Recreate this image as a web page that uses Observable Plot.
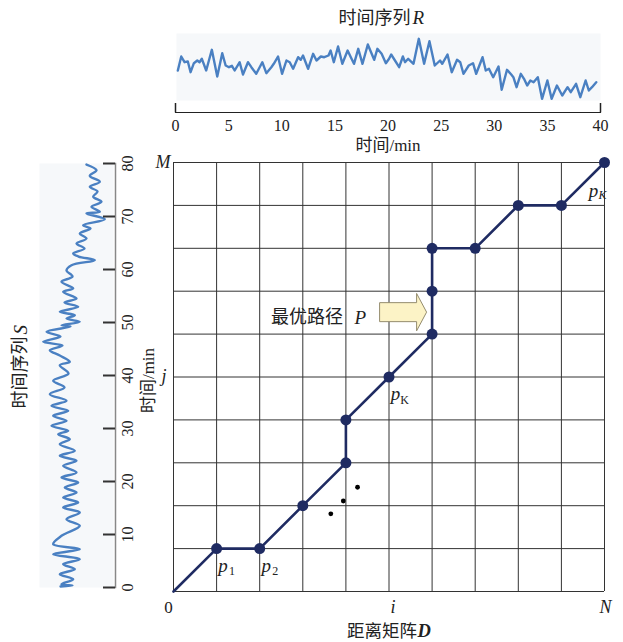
<!DOCTYPE html>
<html><head><meta charset="utf-8">
<script src="https://cdn.jsdelivr.net/npm/d3@7"></script>
<script src="https://cdn.jsdelivr.net/npm/@observablehq/plot@0.6"></script>
<style>
html,body{margin:0;padding:0;background:#fff;}
#wrap{position:relative;width:623px;height:642px;overflow:hidden;background:#fff;}
#wrap svg{position:absolute;left:0;top:0;}
</style></head><body><div id="wrap"></div>
<script>
const SERIF = "'Liberation Serif','Noto Sans CJK SC',serif";
const CJK = "'Noto Sans CJK SC','Liberation Serif',sans-serif";
const BLUE = "#4a80c2";
const NAVY = "#1f2b62";
const PANEL = "#f6f8fa";

// ---- time series R (top) : minutes, value
const rTime = [0.22,0.54,0.85,1.16,1.42,1.73,2.05,2.26,2.48,2.89,3.42,3.93,4.4,4.72,5.03,5.31,5.57,6.04,6.35,6.82,7.14,7.6,8.17,8.55,9.02,9.25,9.65,10.03,10.44,10.75,11.07,11.54,11.79,12.0,12.48,12.95,13.27,13.68,14.0,14.4,14.6,14.9,15.3,15.7,16.2,16.5,16.8,17.2,17.6,18.1,18.7,19.0,19.4,19.8,20.1,20.3,21.05,21.4,21.6,21.9,22.4,22.9,23.4,23.9,24.4,24.9,25.1,25.6,26.0,26.5,26.8,27.1,27.6,28.0,28.3,28.9,29.2,29.5,29.9,30.4,30.7,31.2,31.6,31.8,32.1,32.5,32.8,33.1,33.4,33.7,34.1,34.5,35.0,35.4,35.9,36.4,36.9,37.2,37.7,38.1,38.6,38.9,39.2,39.6];
const rValue = [40,54,48.3,49,38.3,47.3,50,48.3,51.7,40,60.7,34,57.3,45,43.3,44.7,40,48.3,36,48.3,43.3,36.7,48.3,37.3,43.3,46.7,54,36.7,50,48.3,41.7,53.3,50.7,55,41.7,56.7,50,54,53.3,55,60,48.3,64,46.7,60,53.3,46.7,61.7,46.7,66,50.7,61.7,56.7,47.3,51.7,56,43.3,54,48.3,51.7,46.7,71.7,46.7,69.3,45,50,46.7,56,38.3,50.7,48.3,36.7,45,47.3,36.7,53.3,40,41.7,33.3,44,20.7,40.7,36,33.3,23.3,36.7,31.7,25,30,28.3,33.3,11.7,30,11.7,25,15,23.3,18.3,26.7,13.3,30,20,23.3,28.3];
const rTicks = [0,5,10,15,20,25,30,35,40];
const rEndTicks = [0,40];

// ---- time series S (left) : minutes, value
const sTime = [0.19,0.38,0.62,1.57,2.51,3.45,4.40,5.34,6.28,7.23,8.17,9.75,11.64,12.89,14.15,15.09,16.04,16.98,17.92,18.87,19.81,20.75,21.70,22.96,23.91,24.85,25.79,27.04,27.98,28.92,29.57,30.51,31.45,32.40,33.34,34.28,35.23,36.47,37.74,39.0,40.38,41.94,42.58,43.77,44.77,45.66,46.36,47.36,48.25,49.25,49.49,50.13,50.75,51.38,52.02,52.96,53.77,54.53,55.79,56.42,57.68,58.68,59.81,60.81,61.75,62.45,63.02,63.96,64.91,65.85,66.79,67.74,68.36,69.49,70.57,70.89,71.83,72.77,73.72,74.72,75.60,76.55,77.68,78.74,79.81];
const sValue = [21,33,22,33.7,20.3,35.3,23.7,40.3,13.7,40.3,13.7,22,40.3,27,40.3,23.7,38.7,23.7,37,25.3,38.7,22,37,23.7,37,20.3,35.3,20.3,30.3,18.7,28.7,12,27,13.7,28.7,12,27,10.3,25,13.7,29,20.3,30.3,20.3,10.3,23,3.7,21,7,31,22,40.3,27,35.3,20.3,38.7,25,37,23.7,33.7,22,33,27,32,55.3,39,33.7,45,37,47,40.3,51,43.7,65.3,47,60.3,52,62,53.7,58,50.3,60.3,50.3,57,47];
const sTicks = [0,10,20,30,40,50,60,70,80];

// ---- distance matrix grid and warping path
const gridI = [0,1,2,3,4,5,6,7,8,9,10];
const gridJ = [0,1,2,3,4,5,6,7,8,9,10];
const pathI = [0,1,2,3,4,4,5,6,6,6,7,8,9,10];
const pathJ = [0,1,1,2,3,4,5,6,7,8,8,9,9,10];
const extraI = [3.65,3.94,4.27];
const extraJ = [1.81,2.11,2.43];
const pLabels = [
  {i:1, j:1, p:"p", s:"1"},
  {i:2, j:1, p:"p", s:"2"},
  {i:5, j:5, p:"p", s:"K"}
];
const arrowAt = {i:6, j:6.5};

const wrap = document.getElementById("wrap");
const common = {width:623, height:642, style:{background:"transparent", overflow:"visible", color:"#222"}};

// ===== top series R
const rData = rTime.map((t,k)=>({t, v:rValue[k]}));
const topPlot = Plot.plot({
  ...common,
  marginLeft:175, marginRight:23, marginTop:33, marginBottom:530,
  x:{domain:[0,40], axis:null},
  y:{domain:[-2,77], axis:null},
  marks:[
    Plot.frame({fill:PANEL, stroke:null, insetBottom:12, insetLeft:1}),
    Plot.line(rData,{x:"t", y:"v", stroke:BLUE, strokeWidth:2.4, strokeLinejoin:"round"}),
    Plot.frame({anchor:"bottom", stroke:"#222", strokeWidth:1.2}),
    Plot.ruleX(rEndTicks,{insetTop:70, stroke:"#222", strokeWidth:1.5}),
    Plot.axisX({ticks:rTicks, tickSize:0, tickPadding:7, fontSize:16, fontFamily:SERIF, tickFormat:d=>String(d), label:null}),
    Plot.text(["时间/min"],{frameAnchor:"bottom", lineAnchor:"middle", textAnchor:"middle", dy:33, fontSize:17, fontFamily:SERIF}),
    Plot.text(["时间序列"],{frameAnchor:"top", lineAnchor:"middle", dy:-15.5, dx:22.5, textAnchor:"end", fontSize:18, fontFamily:CJK}),
    Plot.text(["R"],{frameAnchor:"top", lineAnchor:"middle", dy:-15.5, dx:24.5, textAnchor:"start", fontSize:19, fontStyle:"italic", fontFamily:SERIF})
  ]
});
wrap.appendChild(topPlot);

// ===== left series S
const sData = sTime.map((t,k)=>({t, u:sValue[k]}));
const leftPlot = Plot.plot({
  ...common,
  marginLeft:39, marginRight:508, marginTop:163, marginBottom:55,
  x:{domain:[0,76], axis:null},
  y:{domain:[0,80], axis:null},
  marks:[
    Plot.frame({fill:PANEL, stroke:null, insetRight:2}),
    Plot.line(sData,{x:"u", y:"t", stroke:BLUE, strokeWidth:2.4, strokeLinejoin:"round", curve:"catmull-rom"}),
    Plot.frame({anchor:"right", stroke:"#888", strokeWidth:1.5}),
    Plot.tickY(sTicks,{y:d=>d, insetLeft:64, stroke:"#333", strokeWidth:2}),
    Plot.text(sTicks,{y:d=>d, text:d=>String(d), frameAnchor:"right", textAnchor:"middle", lineAnchor:"middle", dx:12, rotate:-90, fontSize:16, fontFamily:SERIF}),
    Plot.text(["时间/min"],{frameAnchor:"right", textAnchor:"middle", lineAnchor:"middle", dx:33, dy:5, rotate:-90, fontSize:17, fontFamily:SERIF}),
    Plot.text(["时间序列"],{frameAnchor:"left", lineAnchor:"middle", dx:-19, dy:-39, rotate:-90, textAnchor:"end", fontSize:18, fontFamily:CJK}),
    Plot.text(["S"],{frameAnchor:"left", lineAnchor:"middle", dx:-19, dy:-41, rotate:-90, textAnchor:"start", fontSize:19, fontStyle:"italic", fontFamily:SERIF})
  ]
});
wrap.appendChild(leftPlot);

// ===== main distance matrix
const pathData = pathI.map((i,k)=>({i, j:pathJ[k]}));
const extraData = extraI.map((i,k)=>({i, j:extraJ[k]}));
const last = pathData[pathData.length-1];

function blockArrow(index, scales) {
  const ax = scales.x(arrowAt.i), ay = scales.y(arrowAt.j);
  const d = [
    [ax-52, ay-9.5],[ax-15, ay-9.5],[ax-15, ay-18.7],[ax-5, ay],
    [ax-15, ay+18.7],[ax-15, ay+9.5],[ax-52, ay+9.5]
  ];
  const g = d3.create("svg:g");
  g.append("path")
    .attr("d", "M" + d.map(p=>p.join(",")).join("L") + "Z")
    .attr("fill", "#fcf3c6").attr("stroke", "#948c6e").attr("stroke-width", 1);
  return g.node();
}

const mainPlot = Plot.plot({
  ...common,
  marginLeft:173, marginRight:19, marginTop:162, marginBottom:51,
  x:{domain:[0,10], axis:null},
  y:{domain:[0,10], axis:null},
  marks:[
    Plot.ruleX(gridI,{stroke:"#333", strokeWidth:1}),
    Plot.ruleY(gridJ,{stroke:"#333", strokeWidth:1}),
    Plot.line(pathData,{x:"i", y:"j", stroke:NAVY, strokeWidth:2.6}),
    Plot.dot(pathData.slice(1),{x:"i", y:"j", r:5.5, fill:NAVY}),
    Plot.dot(extraData,{x:"i", y:"j", r:2.4, fill:"#000"}),
    blockArrow,
    Plot.text(["最优路径"],{x:()=>arrowAt.i, y:()=>arrowAt.j, dx:-89, dy:5, textAnchor:"end", fontSize:18, fontFamily:CJK}),
    Plot.text(["P"],{x:()=>arrowAt.i, y:()=>arrowAt.j, dx:-77.5, dy:5, textAnchor:"start", fontSize:19, fontStyle:"italic", fontFamily:SERIF}),
    Plot.text(["M"],{x:()=>0, y:()=>10, dx:-10.5, fontSize:18, fontStyle:"italic", fontFamily:SERIF}),
    Plot.text(["j"],{x:()=>0, y:()=>5, dx:-9.5, dy:-1, fontSize:18, fontStyle:"italic", fontFamily:SERIF}),
    Plot.text(["0"],{x:()=>0, y:()=>0, dx:-5, dy:16, fontSize:17, fontFamily:SERIF}),
    Plot.text(["i"],{x:()=>5, y:()=>0, dx:4, dy:16, fontSize:18, fontStyle:"italic", fontFamily:SERIF}),
    Plot.text(["N"],{x:()=>10, y:()=>0, dx:1, dy:16, fontSize:18, fontStyle:"italic", fontFamily:SERIF}),
    Plot.text(pLabels,{x:"i", y:"j", text:"p", dx:6.5, dy:17, fontSize:19, fontStyle:"italic", fontFamily:SERIF}),
    Plot.text(pLabels,{x:"i", y:"j", text:"s", dx:15.5, dy:23, fontSize:12, fontStyle:d=>d.s==="K"?"italic":"normal", fontFamily:SERIF}),
    Plot.text([last],{x:"i", y:"j", text:()=>"p", dx:-11, dy:28, fontSize:19, fontStyle:"italic", fontFamily:SERIF}),
    Plot.text([last],{x:"i", y:"j", text:()=>"K", dx:-2, dy:33, fontSize:12, fontStyle:"italic", fontFamily:SERIF}),
    Plot.text(["距离矩阵"],{frameAnchor:"bottom", lineAnchor:"middle", dx:28, dy:39.5, textAnchor:"end", fontSize:17.5, fontFamily:CJK}),
    Plot.text(["D"],{frameAnchor:"bottom", lineAnchor:"middle", dx:28.5, dy:39.5, textAnchor:"start", fontSize:18.5, fontStyle:"italic", fontWeight:"bold", fontFamily:SERIF})
  ]
});
wrap.appendChild(mainPlot);
</script></body></html>
